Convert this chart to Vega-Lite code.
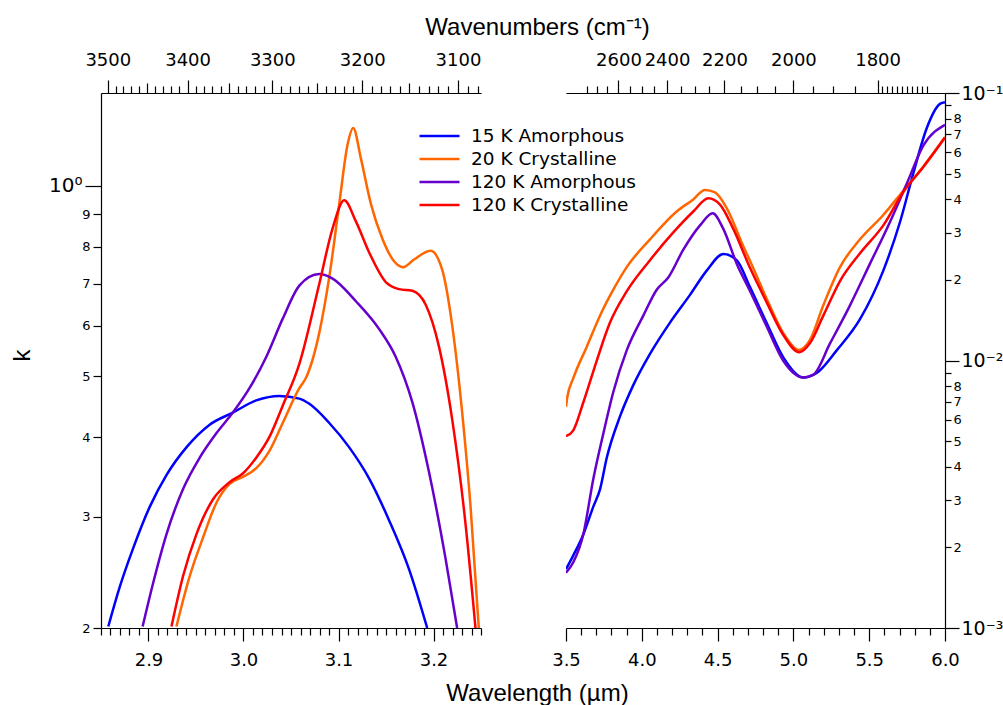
{
  "$schema": "https://vega.github.io/schema/vega-lite/v6.json",
  "padding": {"left": 10, "top": 15, "right": 2, "bottom": 2},
  "bounds": "flush",
  "spacing": 85,
  "config": {
    "view": {"stroke": null},
    "axis": {"domainColor": "#000", "tickColor": "#000", "labelColor": "#000", "titleColor": "#000", "grid": false, "labelFont": "DejaVu Sans", "titleFont": "Liberation Sans", "titleFontWeight": "normal", "domainWidth": 1.2, "tickWidth": 1.2, "labelFlush": false, "labelOverlap": false},
    "legend": {"labelFont": "DejaVu Sans"}
  },
  "datasets": {
    "left": [
      {"s": "15 K Amorphous", "wl": 2.8577, "k": 0.2011}, {"s": "15 K Amorphous", "wl": 2.8699, "k": 0.2326}, {"s": "15 K Amorphous", "wl": 2.8839, "k": 0.2674}, {"s": "15 K Amorphous", "wl": 2.9014, "k": 0.311}, {"s": "15 K Amorphous", "wl": 2.9189, "k": 0.3488}, {"s": "15 K Amorphous", "wl": 2.9399, "k": 0.3858}, {"s": "15 K Amorphous", "wl": 2.9644, "k": 0.419}, {"s": "15 K Amorphous", "wl": 2.9888, "k": 0.4378}, {"s": "15 K Amorphous", "wl": 3.0134, "k": 0.4576}, {"s": "15 K Amorphous", "wl": 3.0378, "k": 0.4652}, {"s": "15 K Amorphous", "wl": 3.0588, "k": 0.4606}, {"s": "15 K Amorphous", "wl": 3.0693, "k": 0.452}, {"s": "15 K Amorphous", "wl": 3.0903, "k": 0.4216}, {"s": "15 K Amorphous", "wl": 3.1113, "k": 0.3858}, {"s": "15 K Amorphous", "wl": 3.1323, "k": 0.3444}, {"s": "15 K Amorphous", "wl": 3.1533, "k": 0.2958}, {"s": "15 K Amorphous", "wl": 3.1742, "k": 0.2478}, {"s": "15 K Amorphous", "wl": 3.1934, "k": 0.2},
      {"s": "20 K Crystalline", "wl": 2.9294, "k": 0.2011}, {"s": "20 K Crystalline", "wl": 2.9434, "k": 0.2416}, {"s": "20 K Crystalline", "wl": 2.9573, "k": 0.2776}, {"s": "20 K Crystalline", "wl": 2.9714, "k": 0.3152}, {"s": "20 K Crystalline", "wl": 2.9854, "k": 0.3378}, {"s": "20 K Crystalline", "wl": 2.9993, "k": 0.3464}, {"s": "20 K Crystalline", "wl": 3.0134, "k": 0.3576}, {"s": "20 K Crystalline", "wl": 3.0273, "k": 0.381}, {"s": "20 K Crystalline", "wl": 3.0413, "k": 0.4216}, {"s": "20 K Crystalline", "wl": 3.0588, "k": 0.4784}, {"s": "20 K Crystalline", "wl": 3.0658, "k": 0.4968}, {"s": "20 K Crystalline", "wl": 3.0798, "k": 0.5856}, {"s": "20 K Crystalline", "wl": 3.0903, "k": 0.7172}, {"s": "20 K Crystalline", "wl": 3.1008, "k": 0.9354}, {"s": "20 K Crystalline", "wl": 3.1095, "k": 1.1596}, {"s": "20 K Crystalline", "wl": 3.1155, "k": 1.2324}, {"s": "20 K Crystalline", "wl": 3.1236, "k": 1.1028}, {"s": "20 K Crystalline", "wl": 3.1341, "k": 0.9354}, {"s": "20 K Crystalline", "wl": 3.1462, "k": 0.8242}, {"s": "20 K Crystalline", "wl": 3.1585, "k": 0.759}, {"s": "20 K Crystalline", "wl": 3.1679, "k": 0.743}, {"s": "20 K Crystalline", "wl": 3.1795, "k": 0.764}, {"s": "20 K Crystalline", "wl": 3.197, "k": 0.7884}, {"s": "20 K Crystalline", "wl": 3.2092, "k": 0.7356}, {"s": "20 K Crystalline", "wl": 3.2197, "k": 0.6008}, {"s": "20 K Crystalline", "wl": 3.2302, "k": 0.4378}, {"s": "20 K Crystalline", "wl": 3.239, "k": 0.311}, {"s": "20 K Crystalline", "wl": 3.2477, "k": 0.2},
      {"s": "120 K Amorphous", "wl": 2.8938, "k": 0.2011}, {"s": "120 K Amorphous", "wl": 2.9049, "k": 0.2356}, {"s": "120 K Amorphous", "wl": 2.9189, "k": 0.2812}, {"s": "120 K Amorphous", "wl": 2.9364, "k": 0.3316}, {"s": "120 K Amorphous", "wl": 2.9539, "k": 0.3716}, {"s": "120 K Amorphous", "wl": 2.9714, "k": 0.406}, {"s": "120 K Amorphous", "wl": 2.9888, "k": 0.4378}, {"s": "120 K Amorphous", "wl": 3.0063, "k": 0.4784}, {"s": "120 K Amorphous", "wl": 3.0239, "k": 0.536}, {"s": "120 K Amorphous", "wl": 3.0413, "k": 0.6162}, {"s": "120 K Amorphous", "wl": 3.0588, "k": 0.6948}, {"s": "120 K Amorphous", "wl": 3.0798, "k": 0.7246}, {"s": "120 K Amorphous", "wl": 3.0938, "k": 0.7128}, {"s": "120 K Amorphous", "wl": 3.1183, "k": 0.6564}, {"s": "120 K Amorphous", "wl": 3.1428, "k": 0.5932}, {"s": "120 K Amorphous", "wl": 3.1603, "k": 0.536}, {"s": "120 K Amorphous", "wl": 3.1777, "k": 0.4548}, {"s": "120 K Amorphous", "wl": 3.1952, "k": 0.353}, {"s": "120 K Amorphous", "wl": 3.2127, "k": 0.2574}, {"s": "120 K Amorphous", "wl": 3.2249, "k": 0.2},
      {"s": "120 K Crystalline", "wl": 2.9242, "k": 0.2011}, {"s": "120 K Crystalline", "wl": 2.9364, "k": 0.2416}, {"s": "120 K Crystalline", "wl": 2.9504, "k": 0.2812}, {"s": "120 K Crystalline", "wl": 2.9678, "k": 0.3192}, {"s": "120 K Crystalline", "wl": 2.9854, "k": 0.34}, {"s": "120 K Crystalline", "wl": 2.9993, "k": 0.3508}, {"s": "120 K Crystalline", "wl": 3.0134, "k": 0.3716}, {"s": "120 K Crystalline", "wl": 3.0273, "k": 0.4008}, {"s": "120 K Crystalline", "wl": 3.0413, "k": 0.449}, {"s": "120 K Crystalline", "wl": 3.0588, "k": 0.5228}, {"s": "120 K Crystalline", "wl": 3.0798, "k": 0.6996}, {"s": "120 K Crystalline", "wl": 3.0938, "k": 0.856}, {"s": "120 K Crystalline", "wl": 3.106, "k": 0.9474}, {"s": "120 K Crystalline", "wl": 3.1183, "k": 0.8778}, {"s": "120 K Crystalline", "wl": 3.1323, "k": 0.7836}, {"s": "120 K Crystalline", "wl": 3.1498, "k": 0.7038}, {"s": "120 K Crystalline", "wl": 3.1637, "k": 0.686}, {"s": "120 K Crystalline", "wl": 3.1777, "k": 0.6818}, {"s": "120 K Crystalline", "wl": 3.1918, "k": 0.648}, {"s": "120 K Crystalline", "wl": 3.2057, "k": 0.557}, {"s": "120 K Crystalline", "wl": 3.2197, "k": 0.4268}, {"s": "120 K Crystalline", "wl": 3.2337, "k": 0.2922}, {"s": "120 K Crystalline", "wl": 3.2442, "k": 0.2}
    ],
    "right": [
      {"s": "15 K Amorphous", "wl": 3.5, "k": 0.001659}, {"s": "15 K Amorphous", "wl": 3.5482, "k": 0.001869}, {"s": "15 K Amorphous", "wl": 3.6141, "k": 0.002238}, {"s": "15 K Amorphous", "wl": 3.6801, "k": 0.002842}, {"s": "15 K Amorphous", "wl": 3.7243, "k": 0.0033}, {"s": "15 K Amorphous", "wl": 3.7685, "k": 0.004321}, {"s": "15 K Amorphous", "wl": 3.8562, "k": 0.00618}, {"s": "15 K Amorphous", "wl": 3.9439, "k": 0.008091}, {"s": "15 K Amorphous", "wl": 4.0541, "k": 0.01059}, {"s": "15 K Amorphous", "wl": 4.186, "k": 0.01386}, {"s": "15 K Amorphous", "wl": 4.3179, "k": 0.01759}, {"s": "15 K Amorphous", "wl": 4.4281, "k": 0.02168}, {"s": "15 K Amorphous", "wl": 4.5376, "k": 0.02502}, {"s": "15 K Amorphous", "wl": 4.626, "k": 0.02372}, {"s": "15 K Amorphous", "wl": 4.7137, "k": 0.0188}, {"s": "15 K Amorphous", "wl": 4.8239, "k": 0.0138}, {"s": "15 K Amorphous", "wl": 4.9334, "k": 0.01027}, {"s": "15 K Amorphous", "wl": 5.0653, "k": 0.008638}, {"s": "15 K Amorphous", "wl": 5.1537, "k": 0.008982}, {"s": "15 K Amorphous", "wl": 5.2856, "k": 0.01091}, {"s": "15 K Amorphous", "wl": 5.4393, "k": 0.01427}, {"s": "15 K Amorphous", "wl": 5.593, "k": 0.02168}, {"s": "15 K Amorphous", "wl": 5.7032, "k": 0.03294}, {"s": "15 K Amorphous", "wl": 5.7909, "k": 0.0501}, {"s": "15 K Amorphous", "wl": 5.8793, "k": 0.07386}, {"s": "15 K Amorphous", "wl": 5.967, "k": 0.09106}, {"s": "15 K Amorphous", "wl": 6.0, "k": 0.09239},
      {"s": "20 K Crystalline", "wl": 3.5, "k": 0.006721}, {"s": "20 K Crystalline", "wl": 3.5086, "k": 0.007286}, {"s": "20 K Crystalline", "wl": 3.5482, "k": 0.008587}, {"s": "20 K Crystalline", "wl": 3.6365, "k": 0.01124}, {"s": "20 K Crystalline", "wl": 3.7243, "k": 0.01471}, {"s": "20 K Crystalline", "wl": 3.812, "k": 0.01839}, {"s": "20 K Crystalline", "wl": 3.9004, "k": 0.02234}, {"s": "20 K Crystalline", "wl": 4.0541, "k": 0.02838}, {"s": "20 K Crystalline", "wl": 4.2302, "k": 0.03606}, {"s": "20 K Crystalline", "wl": 4.3397, "k": 0.04002}, {"s": "20 K Crystalline", "wl": 4.4169, "k": 0.04339}, {"s": "20 K Crystalline", "wl": 4.4828, "k": 0.0425}, {"s": "20 K Crystalline", "wl": 4.56, "k": 0.03713}, {"s": "20 K Crystalline", "wl": 4.6695, "k": 0.02673}, {"s": "20 K Crystalline", "wl": 4.7137, "k": 0.0236}, {"s": "20 K Crystalline", "wl": 4.8239, "k": 0.017}, {"s": "20 K Crystalline", "wl": 4.9334, "k": 0.01266}, {"s": "20 K Crystalline", "wl": 5.0369, "k": 0.01095}, {"s": "20 K Crystalline", "wl": 5.1095, "k": 0.01193}, {"s": "20 K Crystalline", "wl": 5.1972, "k": 0.01608}, {"s": "20 K Crystalline", "wl": 5.3074, "k": 0.02234}, {"s": "20 K Crystalline", "wl": 5.4393, "k": 0.02838}, {"s": "20 K Crystalline", "wl": 5.593, "k": 0.035}, {"s": "20 K Crystalline", "wl": 5.7249, "k": 0.04313}, {"s": "20 K Crystalline", "wl": 5.8569, "k": 0.05316}, {"s": "20 K Crystalline", "wl": 6.0, "k": 0.06853},
      {"s": "120 K Amorphous", "wl": 3.5, "k": 0.00161}, {"s": "120 K Amorphous", "wl": 3.5482, "k": 0.001762}, {"s": "120 K Amorphous", "wl": 3.6141, "k": 0.002238}, {"s": "120 K Amorphous", "wl": 3.6801, "k": 0.003609}, {"s": "120 K Amorphous", "wl": 3.746, "k": 0.005326}, {"s": "120 K Amorphous", "wl": 3.812, "k": 0.007625}, {"s": "120 K Amorphous", "wl": 3.9004, "k": 0.01091}, {"s": "120 K Amorphous", "wl": 4.0099, "k": 0.01471}, {"s": "120 K Amorphous", "wl": 4.0983, "k": 0.01839}, {"s": "120 K Amorphous", "wl": 4.1748, "k": 0.02044}, {"s": "120 K Amorphous", "wl": 4.2737, "k": 0.02595}, {"s": "120 K Amorphous", "wl": 4.3839, "k": 0.03199}, {"s": "120 K Amorphous", "wl": 4.4677, "k": 0.03551}, {"s": "120 K Amorphous", "wl": 4.5376, "k": 0.03105}, {"s": "120 K Amorphous", "wl": 4.626, "k": 0.02302}, {"s": "120 K Amorphous", "wl": 4.7137, "k": 0.0182}, {"s": "120 K Amorphous", "wl": 4.8239, "k": 0.0134}, {"s": "120 K Amorphous", "wl": 4.9334, "k": 0.009975}, {"s": "120 K Amorphous", "wl": 5.0653, "k": 0.008638}, {"s": "120 K Amorphous", "wl": 5.1313, "k": 0.008849}, {"s": "120 K Amorphous", "wl": 5.2414, "k": 0.01158}, {"s": "120 K Amorphous", "wl": 5.3734, "k": 0.01608}, {"s": "120 K Amorphous", "wl": 5.5053, "k": 0.02302}, {"s": "120 K Amorphous", "wl": 5.6372, "k": 0.03296}, {"s": "120 K Amorphous", "wl": 5.7474, "k": 0.04576}, {"s": "120 K Amorphous", "wl": 5.8569, "k": 0.06359}, {"s": "120 K Amorphous", "wl": 6.0, "k": 0.0761},
      {"s": "120 K Crystalline", "wl": 3.5, "k": 0.005212}, {"s": "120 K Crystalline", "wl": 3.5482, "k": 0.005484}, {"s": "120 K Crystalline", "wl": 3.6141, "k": 0.006966}, {"s": "120 K Crystalline", "wl": 3.7025, "k": 0.009975}, {"s": "120 K Crystalline", "wl": 3.7902, "k": 0.01386}, {"s": "120 K Crystalline", "wl": 3.9004, "k": 0.01813}, {"s": "120 K Crystalline", "wl": 4.0541, "k": 0.02372}, {"s": "120 K Crystalline", "wl": 4.2078, "k": 0.03012}, {"s": "120 K Crystalline", "wl": 4.3397, "k": 0.03606}, {"s": "120 K Crystalline", "wl": 4.4387, "k": 0.0404}, {"s": "120 K Crystalline", "wl": 4.5158, "k": 0.03827}, {"s": "120 K Crystalline", "wl": 4.6036, "k": 0.03105}, {"s": "120 K Crystalline", "wl": 4.7137, "k": 0.0222}, {"s": "120 K Crystalline", "wl": 4.8239, "k": 0.0165}, {"s": "120 K Crystalline", "wl": 4.9334, "k": 0.01245}, {"s": "120 K Crystalline", "wl": 5.0389, "k": 0.01074}, {"s": "120 K Crystalline", "wl": 5.1095, "k": 0.01162}, {"s": "120 K Crystalline", "wl": 5.1972, "k": 0.01471}, {"s": "120 K Crystalline", "wl": 5.3074, "k": 0.01982}, {"s": "120 K Crystalline", "wl": 5.4393, "k": 0.02517}, {"s": "120 K Crystalline", "wl": 5.593, "k": 0.03199}, {"s": "120 K Crystalline", "wl": 5.7249, "k": 0.04264}, {"s": "120 K Crystalline", "wl": 5.8569, "k": 0.0529}, {"s": "120 K Crystalline", "wl": 6.0, "k": 0.06817}
    ]
  },
  "hconcat": [
    {
      "width": 380,
      "height": 535,
      "layer": [
        {
          "data": {"name": "left"},
          "mark": {"type": "line", "strokeWidth": 2.5, "clip": true, "interpolate": "monotone"},
          "encoding": {
            "x": {
              "field": "wl", "type": "quantitative",
              "scale": {"domain": [2.85, 3.25], "nice": false, "zero": false},
              "axis": {
                "orient": "bottom",
                "values": [2.85,2.86,2.87,2.88,2.89,2.9,2.91,2.92,2.93,2.94,2.95,2.96,2.97,2.98,2.99,3.0,3.01,3.02,3.03,3.04,3.05,3.06,3.07,3.08,3.09,3.1,3.11,3.12,3.13,3.14,3.15,3.16,3.17,3.18,3.19,3.2,3.21,3.22,3.23,3.24,3.25],
                "labelExpr": "abs(datum.value*10-round(datum.value*10))<0.001 ? format(datum.value,'.1f') : ''",
                "tickSize": {"condition": {"test": "abs(datum.value*10-round(datum.value*10))<0.001", "value": 13}, "value": 7},
                "labelPadding": 10,
                "labelFontSize": 18,
                "title": "Wavelength (µm)",
                "titleFontSize": 24,
                "titleX": 436,
                "titleY": 72,
                "titleAlign": "center",
                "titleBaseline": "alphabetic"
              }
            },
            "y": {
              "field": "k", "type": "quantitative",
              "scale": {"type": "log", "domain": [0.2, 1.4], "nice": false},
              "axis": {
                "orient": "left",
                "values": [0.2,0.3,0.4,0.5,0.6,0.7,0.8,0.9,1],
                "labelExpr": "datum.value > 0.95 ? '10⁰' : format(round(datum.value*10),'d')",
                "tickSize": {"condition": {"test": "datum.value > 0.95", "value": 16}, "value": 8},
                "labelFontSize": {"condition": {"test": "datum.value > 0.95", "value": 20}, "value": 13},
                "labelPadding": 3,
                "title": "k",
                "titleFontSize": 24,
                "titleX": -79,
                "titleY": 262,
                "titleAlign": "center",
                "titleBaseline": "middle"
              }
            },
            "color": {
              "field": "s", "type": "nominal",
              "scale": {"domain": ["15 K Amorphous", "20 K Crystalline", "120 K Amorphous", "120 K Crystalline"], "range": ["#0000ff", "#ff6600", "#6600cc", "#ff0000"]},
              "legend": {"orient": "none", "legendX": 317, "legendY": 33, "title": null, "symbolType": "stroke", "symbolSize": 1600, "symbolStrokeWidth": 2.5, "labelFontSize": 18.5, "labelOffset": 10, "labelLimit": 400, "clipHeight": 20, "rowPadding": 3, "padding": 0}
            }
          }
        },
        {
          "data": {"values": [{"wn": 3500}, {"wn": 3100}]},
          "mark": {"type": "point", "opacity": 0},
          "encoding": {
            "x": {
              "field": "wn", "type": "quantitative",
              "scale": {"type": "pow", "exponent": -1, "domain": [3508.77, 3076.92], "nice": false, "zero": false},
              "axis": {
                "orient": "top",
                "values": [3080,3090,3100,3110,3120,3130,3140,3150,3160,3170,3180,3190,3200,3210,3220,3230,3240,3250,3260,3270,3280,3290,3300,3310,3320,3330,3340,3350,3360,3370,3380,3390,3400,3410,3420,3430,3440,3450,3460,3470,3480,3490,3500],
                "labelExpr": "datum.value % 100 == 0 ? format(datum.value,'d') : ''",
                "tickSize": {"condition": [{"test": "datum.value % 100 == 0", "value": 13}, {"test": "datum.value % 50 == 0", "value": 10}], "value": 7},
                "labelPadding": 11,
                "labelFontSize": 18,
                "title": "Wavenumbers (cm⁻¹)",
                "titleFontSize": 24,
                "titleX": 436,
                "titleY": -59,
                "titleAlign": "center",
                "titleBaseline": "alphabetic"
              }
            }
          }
        }
      ],
      "resolve": {"scale": {"x": "independent"}}
    },
    {
      "width": 379,
      "height": 535,
      "layer": [
        {
          "data": {"name": "right"},
          "mark": {"type": "line", "strokeWidth": 2.5, "clip": true, "interpolate": "monotone"},
          "encoding": {
            "x": {
              "field": "wl", "type": "quantitative",
              "scale": {"domain": [3.5, 6.0], "nice": false, "zero": false},
              "axis": {
                "orient": "bottom",
                "values": [3.5,3.6,3.7,3.8,3.9,4.0,4.1,4.2,4.3,4.4,4.5,4.6,4.7,4.8,4.9,5.0,5.1,5.2,5.3,5.4,5.5,5.6,5.7,5.8,5.9,6.0],
                "labelExpr": "abs(datum.value*2-round(datum.value*2))<0.001 ? format(datum.value,'.1f') : ''",
                "tickSize": {"condition": {"test": "abs(datum.value*2-round(datum.value*2))<0.001", "value": 13}, "value": 7},
                "labelPadding": 10,
                "labelFontSize": 18,
                "title": null
              }
            },
            "y": {
              "field": "k", "type": "quantitative",
              "scale": {"type": "log", "domain": [0.001, 0.1], "nice": false},
              "axis": {
                "orient": "right",
                "values": [0.001,0.002,0.003,0.004,0.005,0.006,0.007,0.008,0.009,0.01,0.02,0.03,0.04,0.05,0.06,0.07,0.08,0.09,0.1],
                "labelExpr": "datum.value < 0.0095 ? (datum.value < 0.0015 ? '10⁻³' : (round(datum.value*1000) == 9 ? '' : format(round(datum.value*1000),'d'))) : (datum.value < 0.095 ? (datum.value < 0.015 ? '10⁻²' : (round(datum.value*100) == 9 ? '' : format(round(datum.value*100),'d'))) : '10⁻¹')",
                "tickSize": {"condition": {"test": "abs(log(datum.value)/LN10 - round(log(datum.value)/LN10)) < 0.000001", "value": 14}, "value": 6},
                "labelFontSize": {"condition": {"test": "abs(log(datum.value)/LN10 - round(log(datum.value)/LN10)) < 0.000001", "value": 19}, "value": 13},
                "labelPadding": 2,
                "title": null
              }
            },
            "color": {
              "field": "s", "type": "nominal",
              "scale": {"domain": ["15 K Amorphous", "20 K Crystalline", "120 K Amorphous", "120 K Crystalline"], "range": ["#0000ff", "#ff6600", "#6600cc", "#ff0000"]},
              "legend": {"orient": "none", "legendX": 317, "legendY": 33, "title": null, "symbolType": "stroke", "symbolSize": 1600, "symbolStrokeWidth": 2.5, "labelFontSize": 18.5, "labelOffset": 10, "labelLimit": 400, "clipHeight": 20, "rowPadding": 3, "padding": 0}
            }
          }
        },
        {
          "data": {"values": [{"wn": 2600}, {"wn": 1800}]},
          "mark": {"type": "point", "opacity": 0},
          "encoding": {
            "x": {
              "field": "wn", "type": "quantitative",
              "scale": {"type": "pow", "exponent": -1, "domain": [2857.14, 1666.67], "nice": false, "zero": false},
              "axis": {
                "orient": "top",
                "values": [2750,2700,2650,2600,2550,2500,2450,2400,2350,2300,2250,2200,2150,2100,2050,2000,1950,1900,1850,1800,1790,1780,1770,1760,1750,1740,1730,1720,1710,1700],
                "labelExpr": "datum.value % 200 == 0 ? format(datum.value,'d') : ''",
                "tickSize": {"condition": {"test": "datum.value % 200 == 0", "value": 13}, "value": 7},
                "labelPadding": 11,
                "labelFontSize": 18,
                "title": null
              }
            }
          }
        }
      ],
      "resolve": {"scale": {"x": "independent"}}
    }
  ]
}
